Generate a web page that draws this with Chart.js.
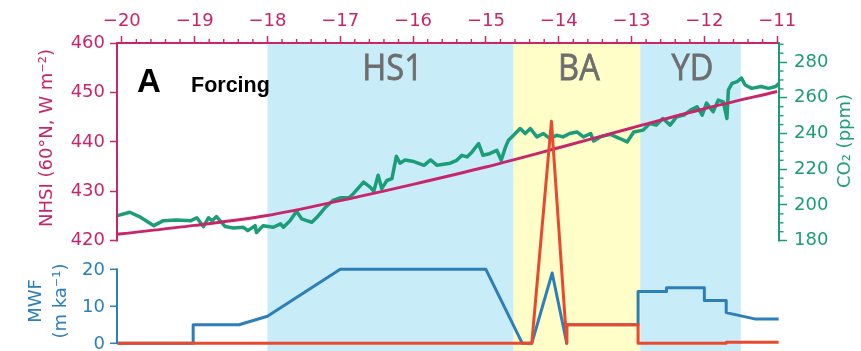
<!DOCTYPE html>
<html>
<head>
<meta charset="utf-8">
<script src="https://cdn.jsdelivr.net/npm/chart.js@4.4.1/dist/chart.umd.min.js"></script>
<style>
  html, body { margin: 0; padding: 0; background: #ffffff; }
  #wrap { width: 861px; height: 351px; position: relative; }
</style>
</head>
<body>
<div id="wrap"><canvas id="c" width="861" height="351"></canvas></div>
<script>
// ---- axis ticks ----
const xTicks = [-20, -19, -18, -17, -16, -15, -14, -13, -12, -11];
const nhsiTicks = [420, 430, 440, 450, 460];
const co2Ticks = [180, 200, 220, 240, 260, 280];
const mwfTicks = [0, 10, 20];

// ---- climate intervals (ka) ----
const periodNames = ['HS1', 'BA', 'YD'];
const periodStart = [-18.0, -14.62, -12.88];
const periodEnd = [-14.62, -12.88, -11.5];

// ---- 60°N summer insolation ----
const nhsiAge = [-20.06, -20, -19, -18, -17, -16, -15, -14, -13, -12, -11];
const nhsiValue = [421.3, 421.4, 423.1, 425.1, 428.1, 431.4, 434.9, 438.8, 442.8, 446.7, 450.2];

// ---- atmospheric CO2 ----
const co2Age = [-20.06, -19.89, -19.76, -19.56, -19.43, -19.25, -19.05, -18.97, -18.88, -18.81, -18.76, -18.7,
  -18.58, -18.47, -18.33, -18.27, -18.17, -18.15, -18.06, -17.92, -17.82, -17.78, -17.69, -17.6, -17.53,
  -17.46, -17.39, -17.32, -17.21, -17.1, -17.0, -16.88, -16.82, -16.68, -16.59, -16.54, -16.48, -16.43,
  -16.36, -16.29, -16.23, -16.18, -16.11, -15.99, -15.85, -15.76, -15.67, -15.49, -15.4, -15.33, -15.26,
  -15.19, -15.1, -15.04, -14.95, -14.85, -14.79, -14.73, -14.69, -14.62, -14.53, -14.46, -14.39, -14.3,
  -14.21, -14.12, -14.03, -13.94, -13.85, -13.75, -13.66, -13.56, -13.52, -13.43, -13.29, -13.16, -13.06,
  -12.97, -12.84, -12.75, -12.66, -12.57, -12.47, -12.38, -12.28, -12.19, -12.1, -12.03, -11.97, -11.88,
  -11.81, -11.74, -11.69, -11.67, -11.62, -11.55, -11.49, -11.44, -11.35, -11.22, -11.12, -11.02, -10.98];
const co2Value = [194.0, 195.9, 193.5, 188.4, 191.2, 191.5, 191.2, 192.8, 187.9, 192.8, 191.2, 193.5,
  187.9, 187.1, 187.5, 185.6, 188.4, 184.5, 188.4, 187.5, 189.4, 187.5, 191.2, 196.5, 192.2,
  191.2, 190.3, 193.1, 198.4, 202.5, 204.0, 204.0, 206.3, 212.8, 210.0, 207.7, 216.6, 209.1,
  213.7, 214.7, 227.2, 223.4, 225.2, 224.3, 222.2, 225.2, 222.2, 223.4, 225.0, 227.8, 226.9,
  229.7, 234.4, 227.8, 228.7, 230.6, 225.0, 232.5, 236.2, 239.0, 242.8, 240.0, 242.8, 238.1,
  240.0, 237.2, 239.0, 238.1, 240.0, 240.9, 238.1, 240.0, 235.8, 238.1, 239.5, 237.2, 235.3,
  240.9, 241.9, 245.6, 244.7, 248.4, 244.7, 249.4, 250.3, 253.1, 255.0, 250.3, 257.0, 252.2,
  258.7, 257.7, 248.4, 264.4, 268.1, 269.1, 271.0, 267.2, 265.3, 266.3, 265.3, 266.3, 268.1];

// ---- meltwater flux, first scenario ----
const mwf1Age = [-20.06, -19.02, -19.02, -18.39, -18.0, -17.0, -15.0, -14.5, -14.37, -14.09, -13.89, -13.89,
  -12.91, -12.91, -12.52, -12.52, -12.0, -12.0, -11.7, -11.7, -11.31, -10.98];
const mwf1Value = [0, 0, 5, 5, 7.3, 20, 20, 0, 0, 19, 0, 5,
  5, 14, 14, 15, 15, 11.6, 11.6, 8.3, 6.6, 6.6];

// ---- meltwater flux, second scenario ----
const mwf2Age = [-20.06, -14.37, -14.1, -13.89, -13.89, -12.91, -12.91, -11.7, -11.7, -10.98];
const mwf2Value = [0, 0, 60, 0, 5, 5, 0, 0, 0.3, 0.3];

// ---- styling ----
const ink = { nhsi: '#c8266a', co2: '#1b9e77', mwf1: '#2c7fb8', mwf2: '#e8492f' };
const bandFill = ['#c8ecf8', '#fffec8', '#c8ecf8'];
const tickFont = { family: 'DejaVu Sans', size: 18 };

const toXY = (xs, ys) => xs.map((x, i) => ({ x, y: ys[i] }));
const fixTicks = (vals) => (axis) => { axis.ticks = vals.map(v => ({ value: v })); };
const fmtMinus = (v) => (v < 0 ? '\u2212' + Math.abs(v) : String(v));

// interval shading and names, under everything else
const bands = {
  id: 'bands',
  beforeDraw(chart) {
    const { ctx, chartArea: a, scales: { x } } = chart;
    ctx.save();
    periodNames.forEach((name, i) => {
      const x0 = x.getPixelForValue(periodStart[i]);
      const x1 = x.getPixelForValue(periodEnd[i]);
      ctx.fillStyle = bandFill[i];
      ctx.fillRect(x0, a.top, x1 - x0, a.bottom - a.top);
      ctx.save();
      ctx.translate((x0 + x1) / 2 + 2, 80);
      ctx.scale(0.88, 1);
      ctx.fillStyle = '#6e6e6e';
      ctx.strokeStyle = '#6e6e6e';
      ctx.lineWidth = 0.8;
      ctx.font = '37px "Open Sans"';
      ctx.textAlign = 'center';
      ctx.textBaseline = 'alphabetic';
      ctx.fillText(name, 0, 0);
      ctx.strokeText(name, 0, 0);
      ctx.restore();
    });
    ctx.fillStyle = '#000000';
    ctx.textAlign = 'left';
    ctx.textBaseline = 'alphabetic';
    ctx.font = 'bold 33px "Liberation Sans"';
    ctx.fillText('A', 137, 92);
    ctx.font = 'bold 21.5px "Liberation Sans"';
    ctx.fillText('Forcing', 191, 92);
    ctx.restore();
  }
};

// bounded spines, minor ticks, flux axis and rotated axis titles
const frame = {
  id: 'frame',
  afterDatasetsDraw(chart) {
    const { ctx, chartArea: a, scales } = chart;
    const { x, yN, yC, yM } = scales;
    ctx.save();
    ctx.lineCap = 'butt';
    const vline = (px, y0, y1, color, w) => {
      ctx.strokeStyle = color; ctx.lineWidth = w;
      ctx.beginPath(); ctx.moveTo(px, y0); ctx.lineTo(px, y1); ctx.stroke();
    };
    vline(a.left, a.top - 1, yN.getPixelForValue(420) + 0.8, ink.nhsi, 2);
    vline(a.left, yM.getPixelForValue(20) - 0.8, yM.getPixelForValue(0) + 0.8, ink.mwf1, 2);
    vline(a.right, a.top - 1, yC.getPixelForValue(180) + 0.8, ink.co2, 2);

    // flux axis ticks and labels
    ctx.strokeStyle = ink.mwf1; ctx.lineWidth = 1.5;
    ctx.fillStyle = ink.mwf1;
    ctx.font = '18px "DejaVu Sans"';
    ctx.textAlign = 'right';
    ctx.textBaseline = 'middle';
    mwfTicks.forEach(v => {
      const py = yM.getPixelForValue(v);
      ctx.beginPath(); ctx.moveTo(a.left - 7, py); ctx.lineTo(a.left, py); ctx.stroke();
      ctx.fillText(String(v), a.left - 12, py + 0.8);
    });

    // minor ticks on the time axis
    ctx.strokeStyle = ink.nhsi; ctx.lineWidth = 1.4;
    for (let k = -100; k <= -55; k++) {
      if (k % 5 === 0) continue;
      const px = x.getPixelForValue(k / 5);
      ctx.beginPath(); ctx.moveTo(px, a.top); ctx.lineTo(px, a.top - 4); ctx.stroke();
    }
    // minor ticks on the CO2 axis
    ctx.strokeStyle = ink.co2;
    for (let v = 185; v <= 290; v += 5) {
      if (v % 20 === 0) continue;
      const py = yC.getPixelForValue(v);
      ctx.beginPath(); ctx.moveTo(a.right, py); ctx.lineTo(a.right + 4.5, py); ctx.stroke();
    }

    // axis titles
    const vtext = (lines, cx, cy, color) => {
      ctx.save();
      ctx.translate(cx, cy);
      ctx.rotate(-Math.PI / 2);
      ctx.fillStyle = color;
      ctx.font = '18px "DejaVu Sans"';
      ctx.textAlign = 'center';
      ctx.textBaseline = 'middle';
      lines.forEach((t, i) => ctx.fillText(t, 0, (i - (lines.length - 1) / 2) * 25));
      ctx.restore();
    };
    vtext(['NHSI (60°N, W m\u207B\u00B2)'], 47, 138, ink.nhsi);
    vtext(['MWF', '(m ka\u207B\u00B9)'], 49, 301, ink.mwf1);
    vtext(['CO\u2082 (ppm)'], 845, 141, ink.co2);
    ctx.restore();
  }
};

const noPadY = (w) => (s) => { s.width = w; s.paddingTop = 0; s.paddingBottom = 0; };

new Chart(document.getElementById('c'), {
  type: 'line',
  data: {
    datasets: [
      { data: toXY(co2Age, co2Value), yAxisID: 'yC', borderColor: ink.co2, borderWidth: 3.5, order: 4 },
      { data: toXY(nhsiAge, nhsiValue), yAxisID: 'yN', borderColor: ink.nhsi, borderWidth: 3,
        cubicInterpolationMode: 'monotone', order: 3 },
      { data: toXY(mwf1Age, mwf1Value), yAxisID: 'yM', borderColor: ink.mwf1, borderWidth: 3, order: 2 },
      { data: toXY(mwf2Age, mwf2Value), yAxisID: 'yM', borderColor: ink.mwf2, borderWidth: 3, order: 1 }
    ]
  },
  options: {
    responsive: false,
    devicePixelRatio: 1,
    animation: false,
    events: [],
    layout: { padding: 0 },
    elements: { point: { radius: 0 }, line: { tension: 0, borderJoinStyle: 'round', borderCapStyle: 'butt' } },
    plugins: { legend: { display: false }, title: { display: false }, tooltip: { enabled: false } },
    scales: {
      x: {
        type: 'linear', position: 'top', min: -20.066, max: -10.975,
        afterBuildTicks: fixTicks(xTicks),
        afterFit: (s) => { s.height = 43; s.paddingLeft = 0; s.paddingRight = 0; },
        ticks: { color: ink.nhsi, font: tickFont, padding: 3.5, maxRotation: 0, callback: fmtMinus },
        grid: { drawOnChartArea: false, drawTicks: true, tickLength: 7, tickWidth: 1.5, tickColor: ink.nhsi },
        border: { display: true, color: ink.nhsi, width: 2 }
      },
      yN: {
        type: 'linear', position: 'left', min: 397.68, max: 460,
        afterBuildTicks: fixTicks(nhsiTicks),
        afterFit: noPadY(117),
        ticks: { color: ink.nhsi, font: tickFont, padding: 5 },
        grid: { drawOnChartArea: false, drawTicks: true, tickLength: 7, tickWidth: 1.5, tickColor: ink.nhsi },
        border: { display: false }
      },
      yM: {
        type: 'linear', position: 'left', display: false, min: -2.08, max: 81.16
      },
      yC: {
        type: 'linear', position: 'right', min: 118.2, max: 290.7,
        afterBuildTicks: fixTicks(co2Ticks),
        afterFit: noPadY(82),
        ticks: { color: ink.co2, font: tickFont, padding: 7 },
        grid: { drawOnChartArea: false, drawTicks: true, tickLength: 8, tickWidth: 1.5, tickColor: ink.co2 },
        border: { display: false }
      }
    }
  },
  plugins: [bands, frame]
});
</script>
</body>
</html>
